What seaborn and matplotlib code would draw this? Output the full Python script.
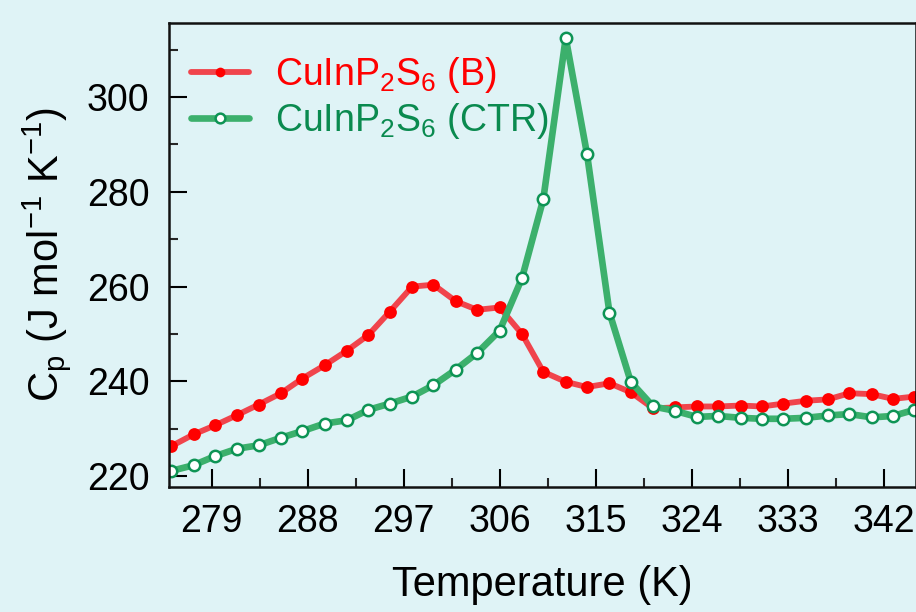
import numpy as np
import pandas as pd
import seaborn as sns
import matplotlib.pyplot as plt
from matplotlib.ticker import MultipleLocator

# values
temp = [275.2, 277.3, 279.3, 281.4, 283.4, 285.5, 287.5, 289.6, 291.7, 293.7,
        295.7, 297.8, 299.8, 301.9, 303.9, 306.0, 308.1, 310.1, 312.2, 314.2,
        316.3, 318.3, 320.4, 322.4, 324.5, 326.5, 328.6, 330.6, 332.6, 334.7,
        336.8, 338.8, 340.9, 342.9, 344.9]
cp_b = [226.3, 228.8, 230.7, 232.9, 235.1, 237.5, 240.6, 243.4, 246.5, 249.8,
        254.7, 260.0, 260.4, 256.9, 255.1, 255.6, 250.0, 242.0, 239.9, 238.8,
        239.6, 237.7, 234.3, 234.5, 234.7, 234.7, 234.9, 234.7, 235.3, 235.9,
        236.2, 237.5, 237.3, 236.3, 236.8]
cp_ctr = [221.1, 222.3, 224.2, 225.8, 226.5, 228.1, 229.5, 231.1, 231.8, 234.0,
          235.3, 236.8, 239.2, 242.5, 246.0, 250.7, 261.8, 278.5, 312.5, 287.9,
          254.5, 239.9, 234.7, 233.8, 232.5, 232.7, 232.3, 232.1, 232.1, 232.3,
          232.8, 233.1, 232.4, 232.7, 234.0]
labels = [r'CuInP$_2$S$_6$ (B)', r'CuInP$_2$S$_6$ (CTR)']
xticks = [279, 288, 297, 306, 315, 324, 333, 342]
yticks = [220, 240, 260, 280, 300]

df = pd.DataFrame({'T': temp, 'B': cp_b, 'CTR': cp_ctr})

sns.set_theme(style='ticks')
plt.rcParams['font.family'] = ['Liberation Sans', 'DejaVu Sans']
plt.rcParams['mathtext.default'] = 'regular'
plt.rcParams['text.color'] = 'black'
plt.rcParams['axes.labelcolor'] = 'black'

bg = '#dff3f6'
fig = plt.figure(figsize=(9.16, 6.12), dpi=100, facecolor=bg)
ax = fig.add_axes([0.1845, 0.2042, 0.815, 0.758])
ax.set_facecolor(bg)

sns.lineplot(data=df, x='T', y='B', ax=ax, color='#f0444c', lw=4.2,
             marker='o', markersize=9.2, markerfacecolor='#ff0000',
             markeredgecolor='#ff0000', markeredgewidth=0, label=labels[0],
             solid_capstyle='round')
sns.lineplot(data=df, x='T', y='CTR', ax=ax, color='#3cb06c', lw=4.8,
             marker='o', markersize=8.2, markerfacecolor='white',
             markeredgecolor='#0e9455', markeredgewidth=1.8, label=labels[1],
             solid_capstyle='round')

ax.set_xlim(275, 345)
ax.set_ylim(217.7, 315.6)
ax.set_xticks(xticks)
ax.set_yticks(yticks)
ax.xaxis.set_minor_locator(MultipleLocator(4.5))
ax.yaxis.set_minor_locator(MultipleLocator(10))
ax.tick_params(which='major', direction='in', length=13, width=1.5,
               labelsize=27, colors='black', pad=12)
ax.tick_params(which='minor', direction='in', length=6.5, width=1.5)
ax.tick_params(axis='y', pad=14)
for s in ax.spines.values():
    s.set_visible(True)
    s.set_linewidth(1.8)
    s.set_color('#111111')

ax.set_xlabel('Temperature (K)', fontsize=30, labelpad=18)
ax.set_ylabel(r'C$_p$ (J mol$^{-1}$ K$^{-1}$)', fontsize=30, labelpad=10)

leg = ax.legend(loc='upper left', bbox_to_anchor=(-0.006, 0.987), frameon=False,
                fontsize=27, handlelength=1.55, handletextpad=0.7,
                labelspacing=0.15, borderaxespad=0.3,
                labelcolor=['#ff0000', '#0a8a4f'])
for h in leg.legend_handles:
    h.set_markersize(7)

fig.savefig('out.png', dpi=100, facecolor=bg)
